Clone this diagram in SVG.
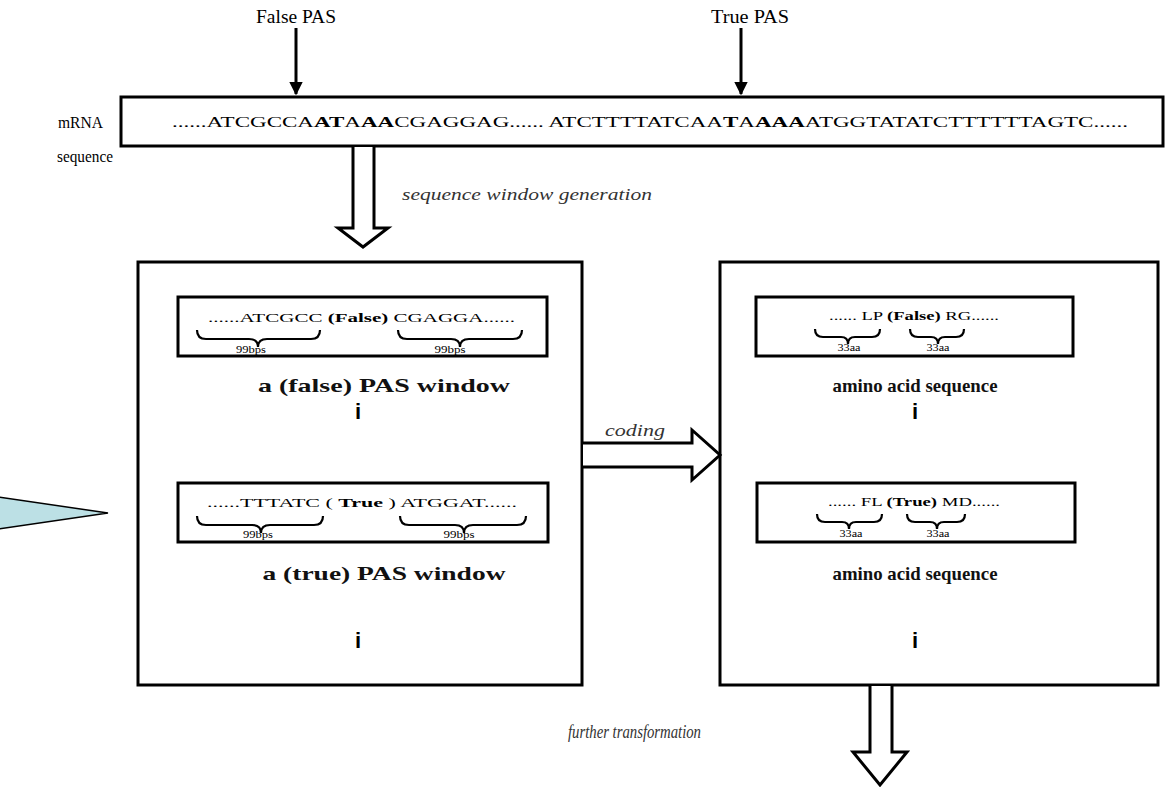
<svg xmlns="http://www.w3.org/2000/svg" width="1173" height="787" viewBox="0 0 1173 787">
  <defs>
    <style>
      .box { fill: #ffffff; stroke: #000000; stroke-width: 3; }
      .inner { fill: #ffffff; stroke: #000000; stroke-width: 3; }
      .hollow { fill: #ffffff; stroke: #000000; stroke-width: 3; stroke-linejoin: miter; }
      .brace { fill: none; stroke: #000000; stroke-width: 2.2; }
      .serif { font-family: "Liberation Serif", "Times New Roman", serif; fill: #000000; }
      .ital { font-family: "Liberation Serif", "Times New Roman", serif; font-style: italic; fill: #333333; }
      .head { font-family: "Liberation Serif", "Times New Roman", serif; font-weight: bold; fill: #111111; }
      .dots { font-family: "Liberation Sans", Arial, sans-serif; font-weight: bold; fill: #000000; }
      .thin { stroke: #000000; stroke-width: 3; fill: none; }
    </style>
    <marker id="solidHead" viewBox="0 0 10 10" refX="9" refY="5" markerWidth="4.5" markerHeight="4.5" orient="auto">
      <path d="M0,0 L10,5 L0,10 z" fill="#000000"/>
    </marker>
  </defs>

  <rect width="1173" height="787" fill="#ffffff"/>

  <!-- callout pointer -->
  <g id="callout">
    <polygon points="-2,497 108,513 -2,529" fill="#bce0e5" stroke="#000000" stroke-width="1.5"/>
  </g>

  <!-- mRNA sequence strip -->
  <g id="mrna">
    <text class="serif" x="58" y="128" font-size="17" textLength="45" lengthAdjust="spacingAndGlyphs">mRNA</text>
    <text class="serif" x="57" y="162" font-size="17" textLength="56" lengthAdjust="spacingAndGlyphs">sequence</text>
    <rect class="box" x="121" y="97" width="1042" height="49"/>
    <text class="serif" x="172" y="127" font-size="15" textLength="956" lengthAdjust="spacingAndGlyphs">......ATCGCCA<tspan font-weight="bold">AT</tspan>A<tspan font-weight="bold">AA</tspan>CGAGGAG...... ATCTTTTATCAA<tspan font-weight="bold">T</tspan>A<tspan font-weight="bold">AAA</tspan>ATGGTATATCTTTTTTAGTC......</text>
  </g>

  <!-- PAS markers -->
  <g id="false-pas">
    <text class="serif" x="296" y="23" font-size="18" text-anchor="middle" textLength="80" lengthAdjust="spacingAndGlyphs">False PAS</text>
  </g>
  <g id="true-pas">
    <text class="serif" x="711" y="23" font-size="18" textLength="78" lengthAdjust="spacingAndGlyphs">True PAS</text>
  </g>

  <!-- left panel: PAS windows -->
  <g id="pas-windows">
    <rect class="box" x="138" y="262" width="444" height="423"/>
    <g id="false-window">
      <rect class="inner" x="178" y="297" width="369" height="59"/>
      <text class="serif" x="208" y="322" font-size="12" textLength="307" lengthAdjust="spacingAndGlyphs">......ATCGCC <tspan font-weight="bold">(False)</tspan> CGAGGA......</text>
      <path class="brace" d="M197,330 Q197,339 206,339 L249,339 Q258,339 258,347 Q258,339 267,339 L311,339 Q320,339 320,330"/>
      <path class="brace" d="M398,330 Q398,339 407,339 L451,339 Q460,339 460,347 Q460,339 469,339 L513,339 Q522,339 522,330"/>
      <text class="serif" x="251" y="353" font-size="10" text-anchor="middle" textLength="30" lengthAdjust="spacingAndGlyphs">99bps</text>
      <text class="serif" x="450" y="353" font-size="10" text-anchor="middle" textLength="31" lengthAdjust="spacingAndGlyphs">99bps</text>
    </g>
    <text class="head" x="384" y="392" font-size="19" text-anchor="middle" textLength="252" lengthAdjust="spacingAndGlyphs">a (false) PAS window</text>
    <text class="dots" x="358" y="419" font-size="22" text-anchor="middle">i</text>
    <g id="true-window">
      <rect class="inner" x="178" y="483" width="370" height="59"/>
      <text class="serif" x="207" y="507" font-size="12" textLength="310" lengthAdjust="spacingAndGlyphs">......TTTATC ( <tspan font-weight="bold">True</tspan> ) ATGGAT......</text>
      <path class="brace" d="M197,516 Q197,525 206,525 L252,525 Q261,525 261,533 Q261,525 270,525 L314,525 Q323,525 323,516"/>
      <path class="brace" d="M400,516 Q400,525 409,525 L455,525 Q464,525 464,533 Q464,525 473,525 L517,525 Q526,525 526,516"/>
      <text class="serif" x="258" y="538" font-size="10" text-anchor="middle" textLength="30" lengthAdjust="spacingAndGlyphs">99bps</text>
      <text class="serif" x="459" y="538" font-size="10" text-anchor="middle" textLength="31" lengthAdjust="spacingAndGlyphs">99bps</text>
    </g>
    <text class="head" x="384" y="580" font-size="19" text-anchor="middle" textLength="243" lengthAdjust="spacingAndGlyphs">a (true) PAS window</text>
    <text class="dots" x="358" y="648" font-size="22" text-anchor="middle">i</text>
  </g>

  <!-- right panel: amino acid sequences -->
  <g id="amino-sequences">
    <rect class="box" x="720" y="262" width="438" height="423"/>
    <g id="false-aa">
      <rect class="inner" x="756" y="297" width="317" height="59"/>
      <text class="serif" x="914" y="320" font-size="12" text-anchor="middle" textLength="170" lengthAdjust="spacingAndGlyphs">...... LP <tspan font-weight="bold">(False)</tspan> RG......</text>
      <path class="brace" d="M815,329 Q815,337 823,337 L841,337 Q848,337 848,344 Q848,337 855,337 L872,337 Q880,337 880,329"/>
      <path class="brace" d="M910,329 Q910,337 918,337 L931,337 Q938,337 938,344 Q938,337 945,337 L956,337 Q964,337 964,329"/>
      <text class="serif" x="849" y="351" font-size="10" text-anchor="middle" textLength="23" lengthAdjust="spacingAndGlyphs">33aa</text>
      <text class="serif" x="938" y="351" font-size="10" text-anchor="middle" textLength="23" lengthAdjust="spacingAndGlyphs">33aa</text>
    </g>
    <text class="head" x="915" y="392" font-size="19" text-anchor="middle" textLength="165" lengthAdjust="spacingAndGlyphs">amino acid sequence</text>
    <text class="dots" x="915" y="419" font-size="22" text-anchor="middle">i</text>
    <g id="true-aa">
      <rect class="inner" x="757" y="483" width="318" height="59"/>
      <text class="serif" x="914" y="506" font-size="12" text-anchor="middle" textLength="172" lengthAdjust="spacingAndGlyphs">...... FL <tspan font-weight="bold">(True)</tspan> MD......</text>
      <path class="brace" d="M817,514 Q817,522 825,522 L842,522 Q849,522 849,529 Q849,522 856,522 L874,522 Q882,522 882,514"/>
      <path class="brace" d="M907,514 Q907,522 915,522 L930,522 Q937,522 937,529 Q937,522 944,522 L957,522 Q965,522 965,514"/>
      <text class="serif" x="851" y="537" font-size="10" text-anchor="middle" textLength="23" lengthAdjust="spacingAndGlyphs">33aa</text>
      <text class="serif" x="938" y="537" font-size="10" text-anchor="middle" textLength="23" lengthAdjust="spacingAndGlyphs">33aa</text>
    </g>
    <text class="head" x="915" y="580" font-size="19" text-anchor="middle" textLength="165" lengthAdjust="spacingAndGlyphs">amino acid sequence</text>
    <text class="dots" x="915" y="648" font-size="22" text-anchor="middle">i</text>
  </g>

  <!-- connectors -->
  <g id="connectors">
    <line class="thin" x1="296" y1="28" x2="296" y2="94" marker-end="url(#solidHead)"/>
    <line class="thin" x1="741" y1="28" x2="741" y2="94" marker-end="url(#solidHead)"/>
    <path class="hollow" d="M353,147 L353,228 L338,228 L363,247 L388,228 L374,228 L374,147"/>
    <path class="hollow" d="M583,443 L692,443 L692,430 L720,455 L692,480 L692,467 L583,467"/>
    <path class="hollow" d="M870,686 L870,752 L853,752 L880,785 L907,752 L892,752 L892,686"/>
    <text class="ital" x="402" y="200" font-size="17" textLength="250" lengthAdjust="spacingAndGlyphs">sequence window generation</text>
    <text class="ital" x="605" y="436" font-size="17" textLength="60" lengthAdjust="spacingAndGlyphs">coding</text>
    <text class="ital" x="568" y="738" font-size="18" textLength="133" lengthAdjust="spacingAndGlyphs">further transformation</text>
  </g>
</svg>
